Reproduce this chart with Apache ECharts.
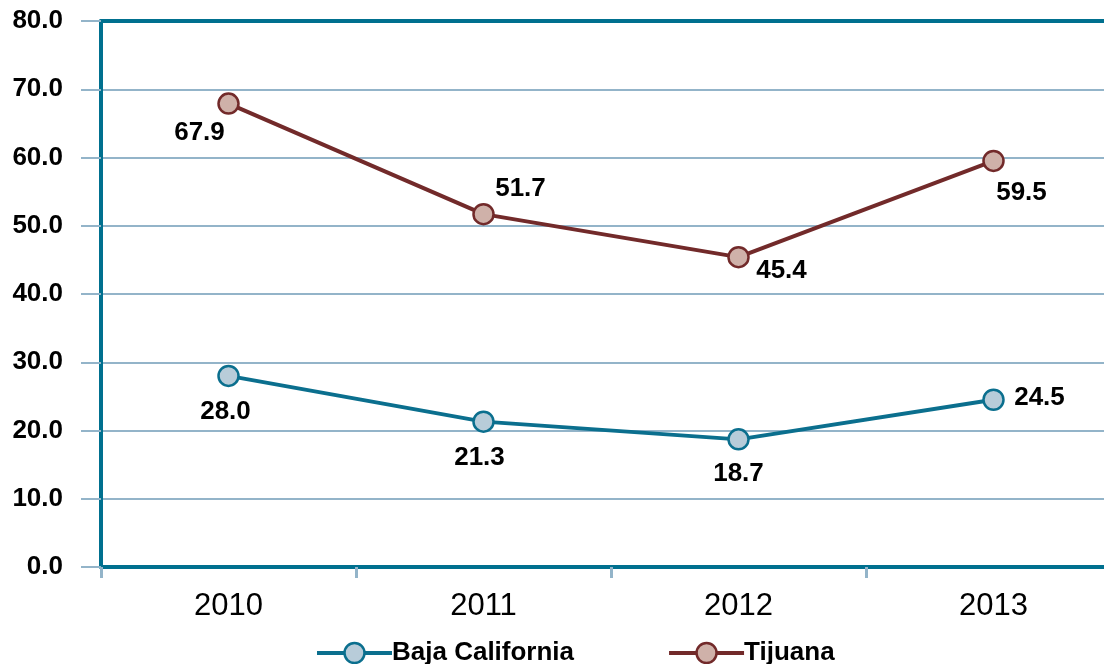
<!DOCTYPE html>
<html>
<head>
<meta charset="utf-8">
<script src="https://cdn.jsdelivr.net/npm/echarts@6/dist/echarts.min.js"></script>
<style>
html,body{margin:0;padding:0;background:#fff;overflow:hidden;width:1104px;height:664px;}
#chart{width:1121px;height:664px;}
</style>
</head>
<body>
<div id="chart"></div>
<script>
const categories = ['2010', '2011', '2012', '2013'];
const bajaCalifornia = [28.0, 21.3, 18.7, 24.5];
const tijuana = [67.9, 51.7, 45.4, 59.5];
const seriesNames = ['Baja California', 'Tijuana'];

// label offsets (style only)
const bajaOffsets = [[-3, 36], [-4, 36], [0, 34], [46, -2]];
const tijOffsets = [[-29, 29], [37, -25], [43, 14], [28, 32]];

const TEAL = '#00708F';
const GRIDC = '#93B4C9';
const MAROON = '#722A2A';
const FONT = 'Liberation Sans, Arial, sans-serif';

function mkData(vals, offs) {
  return vals.map((v, i) => ({
    value: v,
    label: { offset: offs[i] }
  }));
}

const chart = echarts.init(document.getElementById('chart'));
chart.setOption({
  animation: false,
  backgroundColor: '#fff',
  grid: { left: 101, top: 21, bottom: 97, right: 0 },
  xAxis: [{
    type: 'category',
    data: categories,
    position: 'bottom',
    axisLine: { lineStyle: { color: TEAL, width: 4 } },
    axisTick: { show: true, length: 11, lineStyle: { color: GRIDC, width: 3 } },
    axisLabel: { color: '#000', fontFamily: FONT, fontSize: 31, margin: 24 },
    splitLine: { show: false }
  }, {
    type: 'category',
    data: categories,
    position: 'top',
    axisLine: { lineStyle: { color: TEAL, width: 4 } },
    axisTick: { show: false },
    axisLabel: { show: false },
    splitLine: { show: false }
  }],
  yAxis: {
    type: 'value',
    min: 0, max: 80, interval: 10,
    axisLine: { show: true, lineStyle: { color: TEAL, width: 4 } },
    axisTick: { show: true, length: 20, lineStyle: { color: GRIDC, width: 2 } },
    axisLabel: {
      color: '#000', fontFamily: FONT, fontSize: 26, fontWeight: 'bold', margin: 38,
      formatter: v => v.toFixed(1)
    },
    splitLine: { show: true, lineStyle: { color: GRIDC, width: 2 } }
  },
  legend: {
    left: 310, top: 635,
    itemWidth: 75, itemHeight: 25, itemGap: 93,
    lineStyle: { width: 4 },
    itemStyle: { borderWidth: 2.5 },
    textStyle: { color: '#000', fontFamily: FONT, fontSize: 26, fontWeight: 'bold', padding: [0, 0, 0, -5] },
    data: seriesNames
  },
  series: [{
    name: seriesNames[0],
    type: 'line',
    data: mkData(bajaCalifornia, bajaOffsets),
    symbol: 'circle',
    symbolSize: 20,
    lineStyle: { color: '#0B6F8E', width: 4 },
    itemStyle: { color: '#B8CCD9', borderColor: '#0B6F8E', borderWidth: 2.5 },
    label: {
      show: true, position: 'inside', color: '#000', fontFamily: FONT, fontSize: 26, fontWeight: 'bold',
      formatter: p => p.value.toFixed(1)
    }
  }, {
    name: seriesNames[1],
    type: 'line',
    data: mkData(tijuana, tijOffsets),
    symbol: 'circle',
    symbolSize: 20,
    lineStyle: { color: MAROON, width: 4 },
    itemStyle: { color: '#CFB1A9', borderColor: MAROON, borderWidth: 2.5 },
    label: {
      show: true, position: 'inside', color: '#000', fontFamily: FONT, fontSize: 26, fontWeight: 'bold',
      formatter: p => p.value.toFixed(1)
    }
  }]
});
</script>
</body>
</html>
